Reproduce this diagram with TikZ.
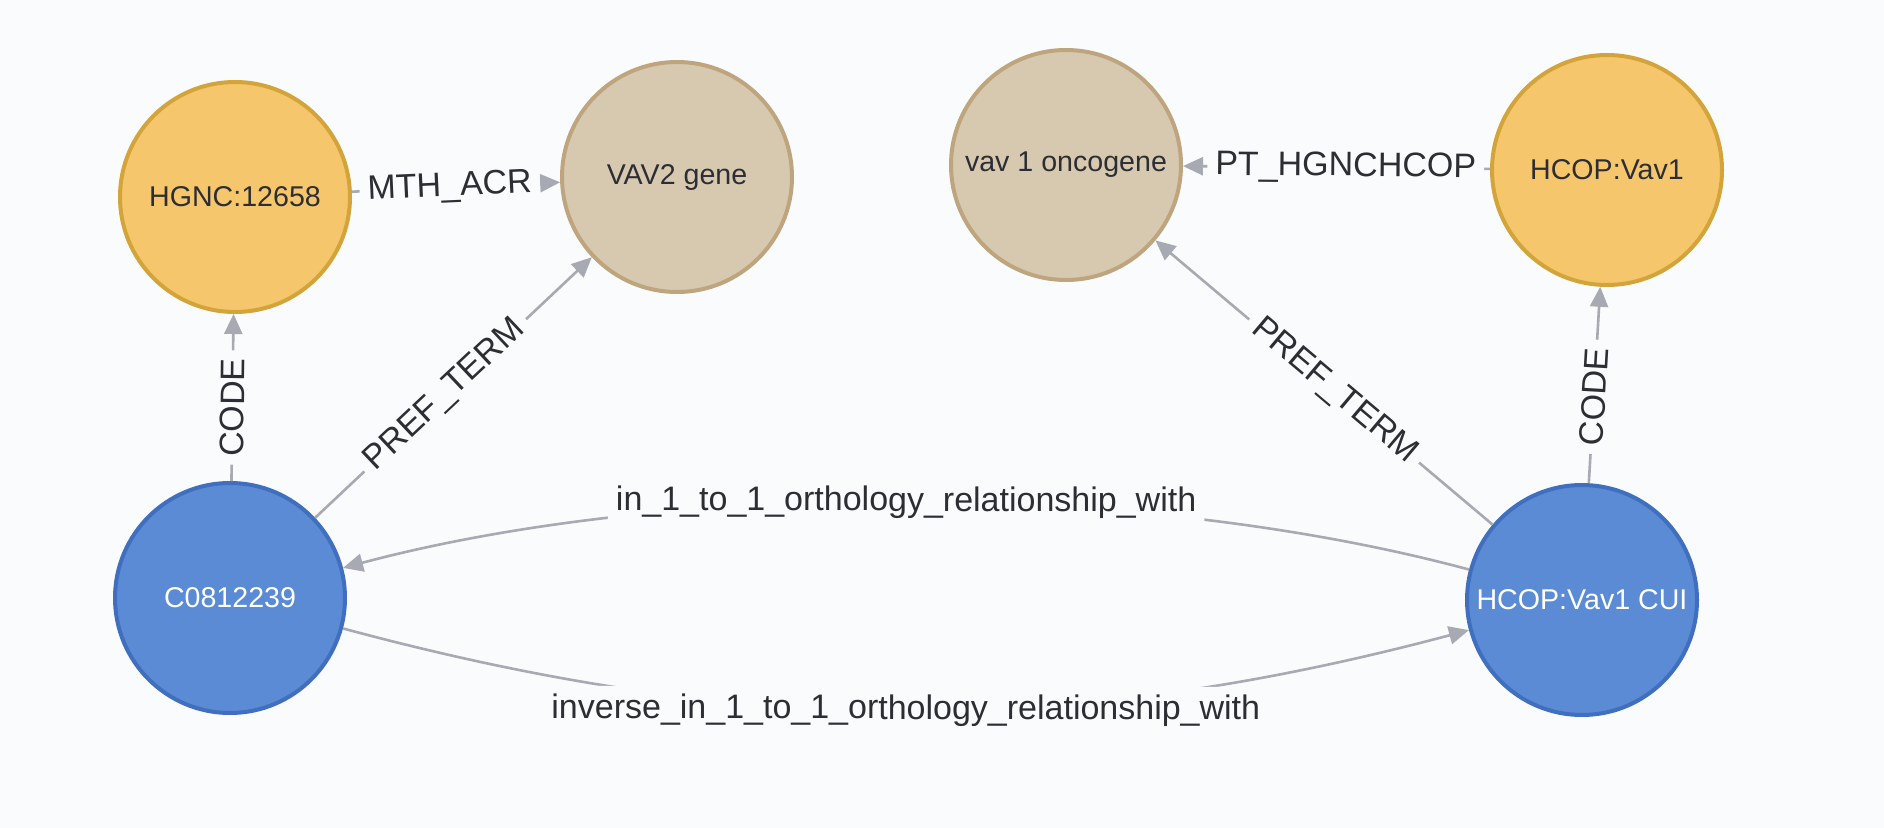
\documentclass[tikz,border=0pt]{standalone}
\usepackage{fontspec}
\setmainfont{Liberation Sans}
\usetikzlibrary{positioning, arrows.meta}
\definecolor{bgcol}{HTML}{F9FBFD}
\definecolor{txtcol}{HTML}{2C2E33}
\definecolor{relcol}{HTML}{A7AAB3}
\definecolor{cuifill}{HTML}{5B8BD4}
\definecolor{cuiline}{HTML}{3F6FBE}
\definecolor{codefill}{HTML}{F6C66C}
\definecolor{codeline}{HTML}{D2A43A}
\definecolor{termfill}{HTML}{D6C9B0}
\definecolor{termline}{HTML}{BEA57D}

\begin{document}
\begin{tikzpicture}[x=1pt, y=1pt, on grid,
        graphnode/.style={circle, minimum size=115pt, inner sep=0pt, line width=2pt,
            text=txtcol, font=\fontsize{14.3}{17}\selectfont},
        cuinode/.style={graphnode, fill=cuifill, draw=cuiline, text=white},
        codenode/.style={graphnode, fill=codefill, draw=codeline},
        termnode/.style={graphnode, fill=termfill, draw=termline},
        rel/.style={draw=relcol, line width=1.3pt, -{Triangle[length=10pt, width=9pt]}},
        rellabel/.style={sloped, pos=0.47, fill=bgcol, text=txtcol, inner sep=4pt,
            font=\fontsize{17}{20}\selectfont}]
    \fill[bgcol] (0,0) rectangle (942,-414);
    \useasboundingbox (0,0) rectangle (942,-414);

    \node[cuinode] (c0812239) at (115,-299) {C0812239};
    \node[codenode, above right=200.5pt and 2.5pt of c0812239] (hgnc) {HGNC:12658};
    \node[termnode, above right=10pt and 221pt of hgnc] (vavtwo) {VAV2 gene};
    \node[termnode, above right=6pt and 194.5pt of vavtwo] (vavone) {vav 1 oncogene};
    \node[codenode, below right=2.5pt and 270.5pt of vavone] (hcop) {HCOP:Vav1};
    \node[cuinode, below left=215pt and 12.5pt of hcop] (hcopcui) {HCOP:Vav1 CUI};

    \draw[rel] (c0812239) -- node[rellabel, pos=0.44] {CODE} (hgnc);
    \draw[rel] (hgnc) -- node[rellabel] {MTH\_ACR} (vavtwo);
    \draw[rel] (c0812239) -- node[rellabel] {PREF\_TERM} (vavtwo);
    \draw[rel] (hcop) -- node[rellabel] {PT\_HGNCHCOP} (vavone);
    \draw[rel] (hcopcui) -- node[rellabel] {PREF\_TERM} (vavone);
    \draw[rel] (hcopcui) -- node[rellabel, pos=0.44] {CODE} (hcop);
    \draw[rel] (hcopcui) to[bend right=15, looseness=0.78]
        node[rellabel, pos=0.5] {in\_1\_to\_1\_orthology\_relationship\_with} (c0812239);
    \draw[rel] (c0812239) to[bend right=15, looseness=0.95]
        node[rellabel, pos=0.5] {inverse\_in\_1\_to\_1\_orthology\_relationship\_with} (hcopcui);
\end{tikzpicture}
\end{document}
